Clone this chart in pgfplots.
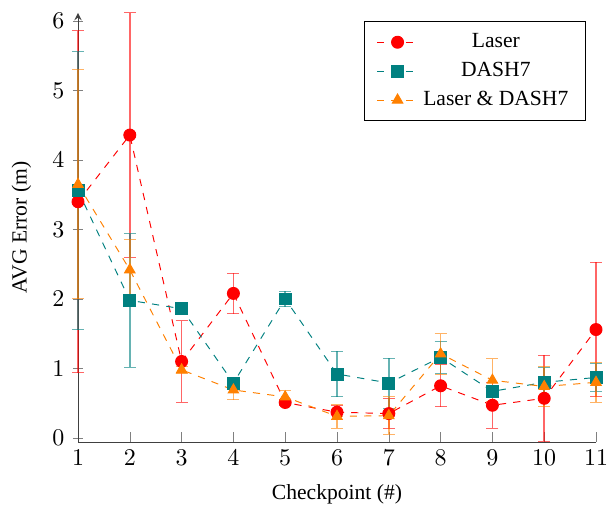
\documentclass[border=0pt]{standalone}
\usepackage[no-math]{fontspec}
\setmainfont{Liberation Serif}
\usepackage{pgfplots}
\pgfplotsset{compat=1.18}
\definecolor{cteal}{RGB}{0,128,128}
\definecolor{corange}{RGB}{255,128,0}
\begin{document}
\begin{tikzpicture}
\begin{axis}[
  scale only axis,
  width=216pt, height=179pt,
  xmin=1, xmax=11, ymin=-0.06, ymax=6.12,
  axis y line=left,
  axis x line*=bottom,
  axis line style={black!75},
  tick style={gray},
  xtick={1,...,11}, ytick={0,...,6},
  xticklabel style={inner xsep=0.5pt},
  xlabel={Checkpoint (\#)}, ylabel={AVG Error (m)},
  label style={font=\small},
  ylabel style={yshift=2pt},
  xlabel style={yshift=-1pt},
  legend cell align=center,
  legend style={draw=black, font=\small, row sep=0.6pt, inner xsep=5pt, inner ysep=2.8pt},
  error bars/error bar style={solid, line width=0.6pt, opacity=0.6},
  clip=false,
]
\addplot+[red, dashed, mark=*, mark size=2.5pt, mark options={solid, fill=red},
  error bars/.cd, y dir=both, y explicit]
coordinates {
(1,3.40) +- (0,2.46)
(2,4.36) +- (0,1.76)
(3,1.10) +- (0,0.59)
(4,2.08) +- (0,0.29)
(5,0.51) +- (0,0.04)
(6,0.37) +- (0,0.10)
(7,0.35) +- (0,0.22)
(8,0.75) +- (0,0.30)
(9,0.47) +- (0,0.33)
(10,0.57) +- (0,0.62)
(11,1.56) +- (0,0.97)
};
\addlegendentry{Laser}
\addplot+[cteal, dashed, mark=square*, mark size=2.5pt, mark options={solid, fill=cteal},
  error bars/.cd, y dir=both, y explicit]
coordinates {
(1,3.56) +- (0,2.00)
(2,1.98) +- (0,0.96)
(3,1.86) +- (0,0.05)
(4,0.79) +- (0,0.05)
(5,2.00) +- (0,0.11)
(6,0.92) +- (0,0.33)
(7,0.79) +- (0,0.36)
(8,1.16) +- (0,0.23)
(9,0.67) +- (0,0.05)
(10,0.80) +- (0,0.21)
(11,0.87) +- (0,0.20)
};
\addlegendentry{DASH7}
\addplot+[corange, dashed, mark=triangle*, mark size=2.5pt, mark options={solid, fill=corange},
  error bars/.cd, y dir=both, y explicit]
coordinates {
(1,3.65) +- (0,1.65)
(2,2.42) +- (0,0.43)
(3,0.98) +- (0,0.05)
(4,0.69) +- (0,0.14)
(5,0.59) +- (0,0.09)
(6,0.31) +- (0,0.17)
(7,0.32) +- (0,0.27)
(8,1.21) +- (0,0.29)
(9,0.83) +- (0,0.31)
(10,0.74) +- (0,0.29)
(11,0.80) +- (0,0.29)
};
\addlegendentry{Laser \& DASH7}
\end{axis}
\path ([shift={(-1.5pt,-1pt)}]current bounding box.south west) rectangle ([shift={(0pt,2pt)}]current bounding box.north east);
\end{tikzpicture}
\end{document}
